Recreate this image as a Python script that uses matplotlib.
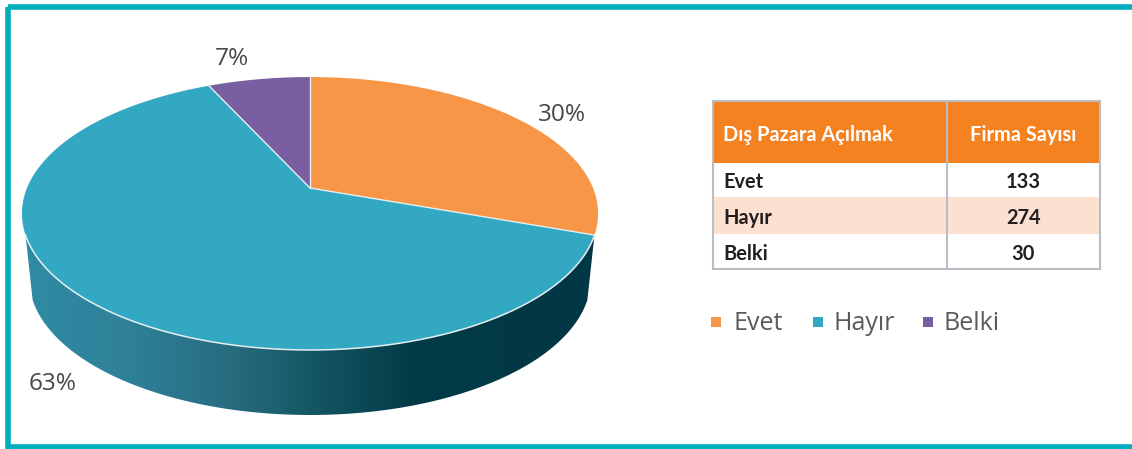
import numpy as np
import matplotlib
matplotlib.use("Agg")
import matplotlib.pyplot as plt
from matplotlib.colors import LinearSegmentedColormap
from matplotlib.patches import Polygon, Rectangle

categories = ["Evet", "Hayır", "Belki"]
firm_counts = [133, 274, 30]
pct_labels = ["30%", "63%", "7%"]
table_headers = ["Dış Pazara Açılmak", "Firma Sayısı"]
colors = ["#F79646", "#33A8C2", "#7A5FA0"]

W, H = 1132, 449
fig = plt.figure(figsize=(W / 100, H / 100), dpi=100, facecolor="white")
ax = fig.add_axes([0, 0, 1, 1])
ax.set_axis_off()

# ---- perspective pie ----
CX, CY, A, B, K = 310.0, 188.0, 283.0, 131.7, 0.187
DEPTH, SHRINK = 65.0, 0.975
EDGE = "#E4EEF0"


def rim(theta):
    """theta: radians clockwise from 12 o'clock -> perspective pixel coords."""
    u, v = np.sin(theta), -np.cos(theta)
    d = 1 - K * v
    return CX + A * u / d, CY + B * v / d


fractions = np.array(firm_counts, float) / sum(firm_counts)
edges = np.concatenate([[0], np.cumsum(fractions)]) * 2 * np.pi

# side wall with a horizontal gradient
t_side = np.linspace(edges[1], 2 * np.pi - edges[1], 300)
xt, yt = rim(t_side)
xb = CX + SHRINK * (xt - CX)
yb = yt + DEPTH
side = np.column_stack([np.r_[xt, xb[::-1]], np.r_[yt, yb[::-1]]])
cmap = LinearSegmentedColormap.from_list(
    "side",
    [(0.0, "#2F8CA4"), (0.18, "#2E8199"), (0.36, "#286C80"), (0.52, "#135460"),
     (0.68, "#033A47"), (1.0, "#023845")],
)
side_patch = Polygon(side, closed=True, fc="none", ec="none", zorder=2)
ax.add_patch(side_patch)
im = ax.imshow(np.linspace(0, 1, 512)[None, :], cmap=cmap, aspect="auto",
               extent=[22, 598, 430, 200], zorder=2)
im.set_clip_path(side_patch)

# top faces
for i, c in enumerate(colors):
    t = np.linspace(edges[i], edges[i + 1], 200)
    x, y = rim(t)
    ax.add_patch(Polygon(np.column_stack([np.r_[CX, x], np.r_[CY, y]]), closed=True,
                         fc=c, ec="none", zorder=3))
# light radial separators and the highlight along the front rim
for e in edges[:-1]:
    x, y = rim(np.array([e]))
    ax.plot([CX, x[0]], [CY, y[0]], color=EDGE, lw=1.0, zorder=4, solid_capstyle="round")
ax.plot(xt, yt, color=EDGE, lw=1.1, zorder=4)

label_font = {"family": "Open Sans", "color": "#484848", "ha": "center", "va": "center"}
label_xy = [(562, 115), (53, 384), (232, 59)]
for s, (lx, ly) in zip(pct_labels, label_xy):
    ax.text(lx, ly, s, fontsize=17.6, zorder=5, **label_font)

# ---- table ----
TX = [713, 947, 1100]
TY = [101, 163, 197, 234, 269]
ORANGE, PEACH, GRID = "#F58220", "#FCE0D0", "#BABEC4"
ax.add_patch(Rectangle((TX[0], TY[0]), TX[2] - TX[0], TY[1] - TY[0], fc=ORANGE, ec="none", zorder=2))
ax.add_patch(Rectangle((TX[0], TY[2]), TX[2] - TX[0], TY[3] - TY[2], fc=PEACH, ec="none", zorder=2))
ax.add_patch(Rectangle((TX[0], TY[0]), TX[2] - TX[0], TY[4] - TY[0], fc="none", ec=GRID, lw=1.5, zorder=3))
ax.plot([TX[1], TX[1]], [TY[0], TY[4]], color=GRID, lw=1.5, zorder=3)

tf = {"family": "Lato", "fontweight": "bold", "fontsize": 14.4, "va": "center", "zorder": 4}
ax.text(TX[0] + 10, (TY[0] + TY[1]) / 2 + 3, table_headers[0], color="white", ha="left", **tf)
ax.text((TX[1] + TX[2]) / 2, (TY[0] + TY[1]) / 2 + 3, table_headers[1], color="white", ha="center", **tf)
for i, (cat, n) in enumerate(zip(categories, firm_counts)):
    ym = (TY[i + 1] + TY[i + 2]) / 2 + 2.5
    ax.text(TX[0] + 10, ym, cat, color="#231F20", ha="left", **tf)
    ax.text((TX[1] + TX[2]) / 2, ym, str(n), color="#231F20", ha="center", **tf)

# ---- legend ----
legend_sq_x = [711, 813, 923]
legend_tx_x = [733, 834, 944]
LEG_Y = 322
for cat, c, sx, tx in zip(categories, colors, legend_sq_x, legend_tx_x):
    ax.add_patch(Rectangle((sx, LEG_Y - 5), 10, 10, fc=c, ec="none", zorder=3))
    ax.text(tx, LEG_Y + 1, cat, family="Open Sans", color="#5A5A5A", fontsize=18,
            ha="left", va="center", zorder=3)

# ---- frame ----
FRAME = "#00AEBC"
ax.add_patch(Rectangle((7.5, 6.5), W + 40, 440, fc="none", ec=FRAME, lw=4, zorder=6))

ax.set_xlim(0, W)
ax.set_ylim(H, 0)
fig.savefig("out.png", dpi=100, facecolor="white")
